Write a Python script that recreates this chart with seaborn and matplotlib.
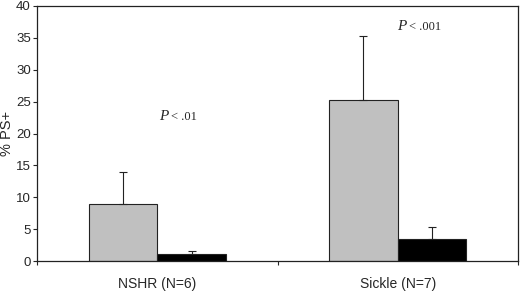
import seaborn as sns
import matplotlib.pyplot as plt
import pandas as pd

# values
groups = ['NSHR (N=6)', 'Sickle (N=7)']
conditions = ['A', 'B']
means_a = [8.9, 25.3]
means_b = [1.1, 3.4]
err_a = [5.0, 10.0]
err_b = [0.5, 2.0]
ptext = ['< .01', '< .001']
p_y = [22.1, 36.2]

df = pd.DataFrame({
    'group': groups * 2,
    'cond': [conditions[0]] * 2 + [conditions[1]] * 2,
    'val': means_a + means_b,
})

sns.set_style('white')
plt.rcParams['font.family'] = ['Liberation Sans Narrow', 'Liberation Sans', 'DejaVu Sans']

fig = plt.figure(figsize=(5.2, 2.92), dpi=100)
ax = fig.add_axes([37 / 520, 31 / 292, 481 / 520, 255 / 292])

sns.barplot(data=df, x='group', y='val', hue='cond', order=groups,
            hue_order=conditions, palette=['#c0c0c0', '#000000'],
            width=0.57, edgecolor='#222222', linewidth=0.8,
            errorbar=None, legend=False, ax=ax)

# one-sided error bars on top of each bar
errs = err_a + err_b
for bar, e in zip(ax.patches, errs):
    xc = bar.get_x() + bar.get_width() / 2
    top = bar.get_height()
    ax.errorbar(xc, top, yerr=[[0], [e]], fmt='none', ecolor='#222222',
                elinewidth=0.8, capsize=3, capthick=0.8)

ax.set_xlim(-0.5, 1.5)
ax.set_ylim(0, 40)
ax.set_yticks(range(0, 41, 5))
ax.set_xlabel('')
ax.set_ylabel('% PS+', fontsize=10.5)
ax.yaxis.set_label_coords(-0.047, 0.5)
ax.tick_params(axis='y', left=True, length=3, width=0.8, labelsize=9.5, pad=1.5)
ax.tick_params(axis='x', bottom=False, labelsize=10, pad=8)
ax.set_xticks([-0.5, 0.5, 1.5], minor=True)
ax.tick_params(axis='x', which='minor', bottom=True, length=3, width=0.8)
for s in ax.spines.values():
    s.set_color('#222222')
    s.set_linewidth(0.9)

# significance labels
for i, t in enumerate(ptext):
    x0 = i + 0.045 - 0.01 * i
    ax.text(x0, p_y[i], 'P', fontsize=11, ha='right', va='baseline',
            family='Liberation Serif', style='italic')
    ax.text(x0 + 0.012, p_y[i], t, fontsize=9, ha='left',
            va='baseline', family='Liberation Serif')

fig.savefig('out.png', dpi=100)
